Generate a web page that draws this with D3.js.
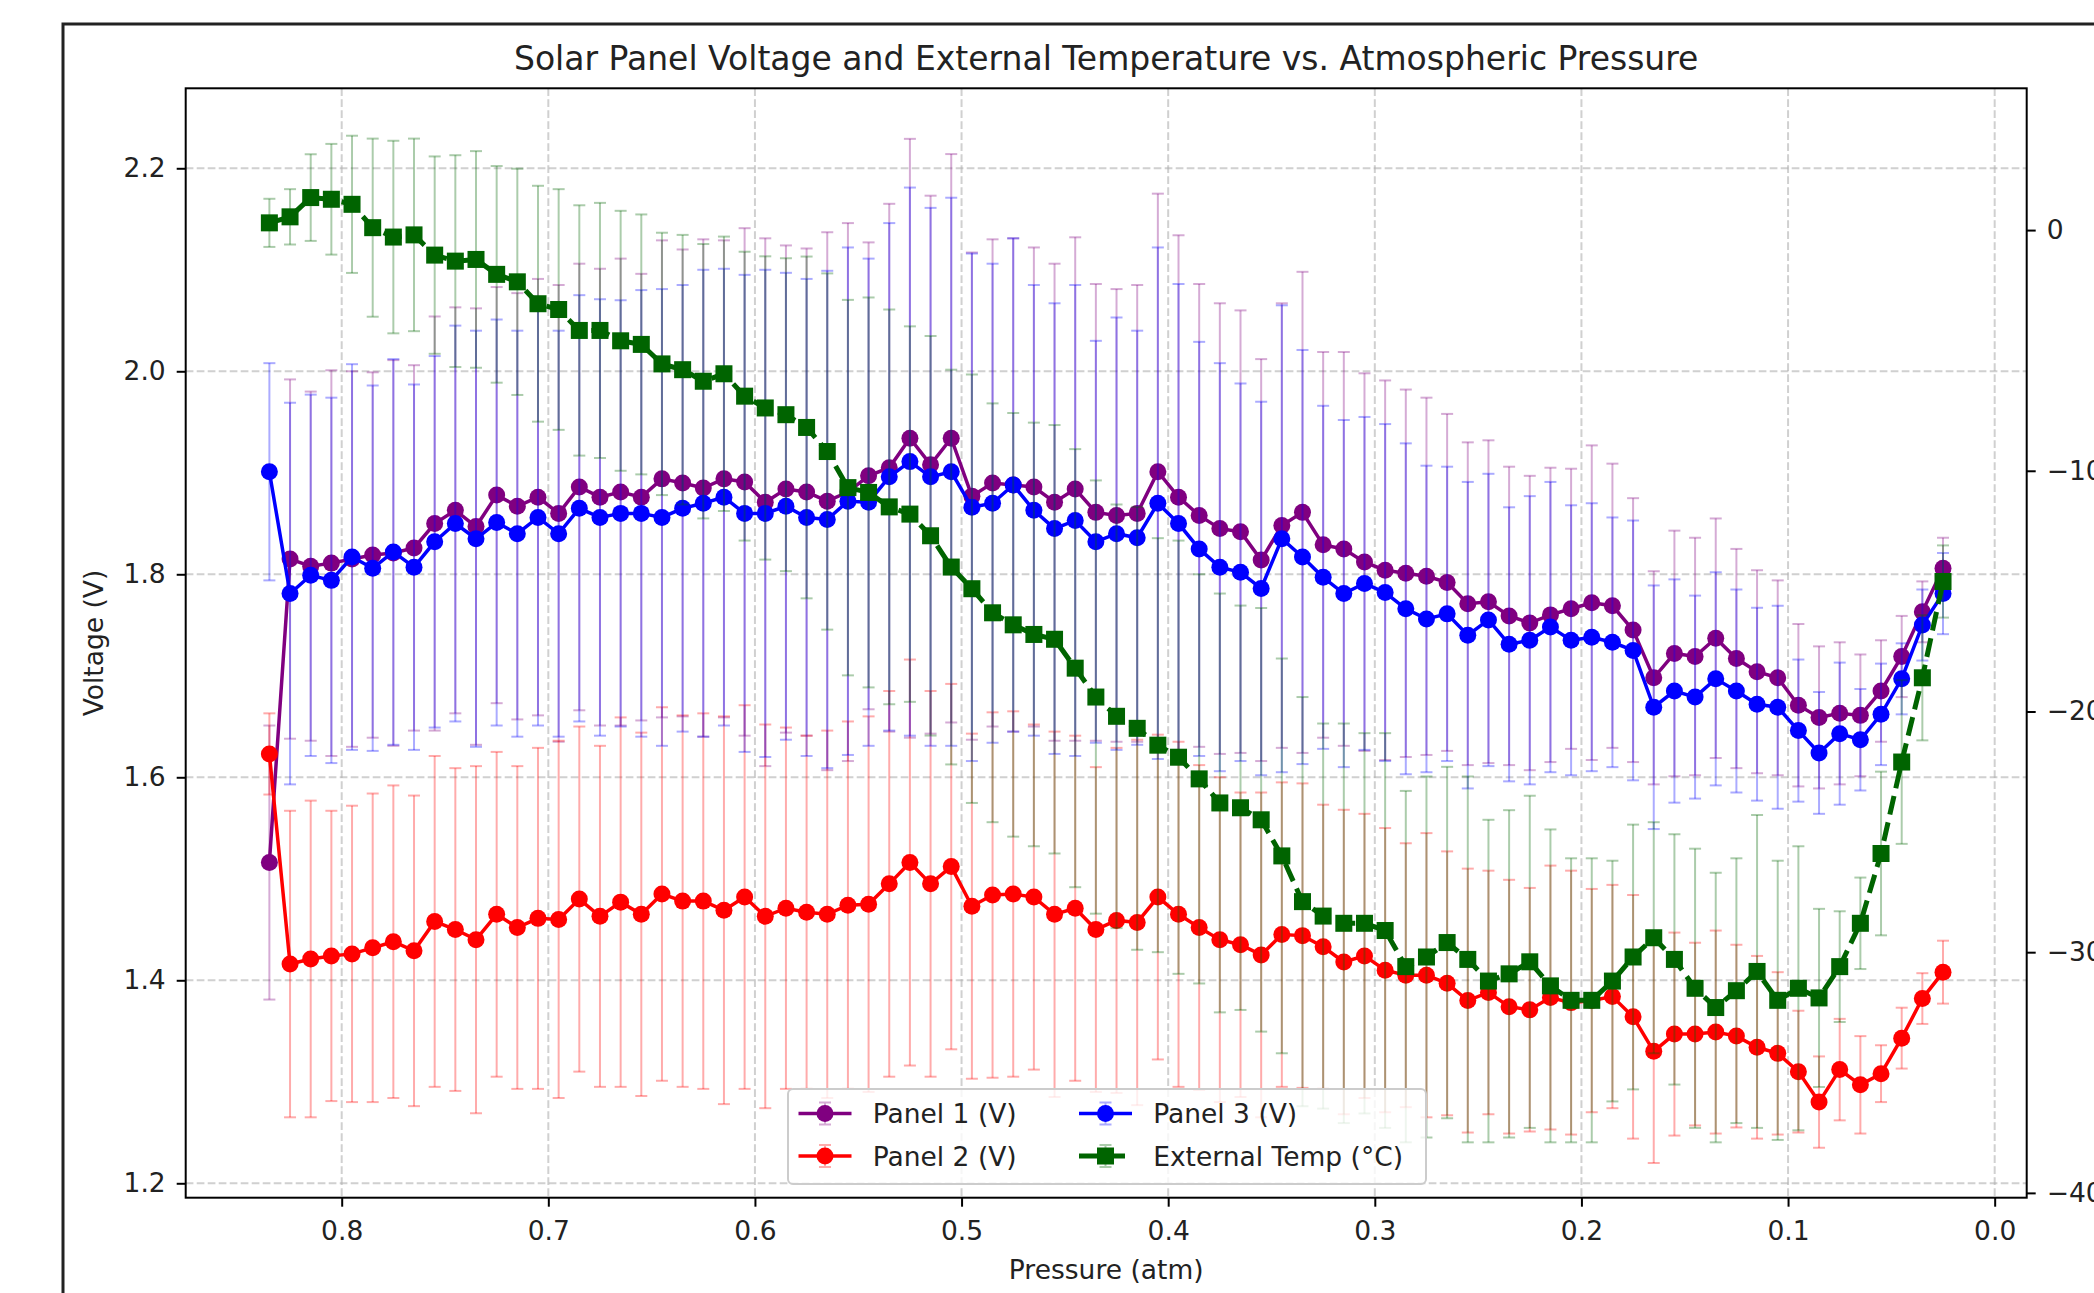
<!DOCTYPE html>
<html>
<head>
<meta charset="utf-8">
<script src="https://cdn.jsdelivr.net/npm/d3@7"></script>
<style>
  body { margin: 0; background: #fff; }
  svg { display: block; font-family: "DejaVu Sans", sans-serif; }
</style>
</head>
<body>
<div id="chart"></div>
<script>
// =================== DATA ===================

// Pressure readings (atm), one per sample
const pressure = [
  0.835, 0.825, 0.815, 0.805, 0.795, 0.785, 0.775, 0.765, 0.755, 0.745,
  0.735, 0.725, 0.715, 0.705, 0.695, 0.685, 0.675, 0.665, 0.655, 0.645,
  0.635, 0.625, 0.615, 0.605, 0.595, 0.585, 0.575, 0.565, 0.555, 0.545,
  0.535, 0.525, 0.515, 0.505, 0.495, 0.485, 0.475, 0.465, 0.455, 0.445,
  0.435, 0.425, 0.415, 0.405, 0.395, 0.385, 0.375, 0.365, 0.355, 0.345,
  0.335, 0.325, 0.315, 0.305, 0.295, 0.285, 0.275, 0.265, 0.255, 0.245,
  0.235, 0.225, 0.215, 0.205, 0.195, 0.185, 0.175, 0.165, 0.155, 0.145,
  0.135, 0.125, 0.115, 0.105, 0.095, 0.085, 0.075, 0.065, 0.055, 0.045,
  0.035, 0.025
];

// Panel voltages (V)
const panel1 = [
  1.516, 1.815, 1.808, 1.811, 1.815, 1.819, 1.821, 1.826, 1.850, 1.863,
  1.847, 1.878, 1.867, 1.876, 1.860, 1.886, 1.876, 1.881, 1.876, 1.894,
  1.890, 1.885, 1.894, 1.891, 1.871, 1.884, 1.881, 1.872, 1.881, 1.897,
  1.905, 1.934, 1.908, 1.934, 1.877, 1.890, 1.888, 1.886, 1.871, 1.884,
  1.861, 1.858, 1.860, 1.901, 1.876, 1.858, 1.845, 1.842, 1.814, 1.848,
  1.861, 1.829, 1.825, 1.812, 1.804, 1.801, 1.798, 1.792, 1.771, 1.773,
  1.759, 1.752, 1.760, 1.766, 1.772, 1.769, 1.745, 1.698, 1.722, 1.719,
  1.737, 1.717, 1.704, 1.698, 1.671, 1.659, 1.663, 1.661, 1.685, 1.719,
  1.763, 1.806
];
const panel2 = [
  1.623, 1.416, 1.421, 1.424, 1.426, 1.432, 1.438, 1.429, 1.458, 1.450,
  1.440, 1.465, 1.452, 1.461, 1.460, 1.480, 1.463, 1.477, 1.465, 1.485,
  1.478, 1.478, 1.469, 1.482, 1.463, 1.471, 1.467, 1.465, 1.474, 1.475,
  1.495, 1.516, 1.495, 1.512, 1.473, 1.484, 1.485, 1.482, 1.465, 1.471,
  1.450, 1.459, 1.457, 1.482, 1.465, 1.452, 1.440, 1.435, 1.425, 1.445,
  1.444, 1.433, 1.418, 1.424, 1.410, 1.405, 1.405, 1.397, 1.380, 1.388,
  1.374, 1.371, 1.383, 1.378, 1.380, 1.384, 1.364, 1.330, 1.347, 1.347,
  1.349, 1.345, 1.334, 1.328, 1.310, 1.280, 1.312, 1.297, 1.308, 1.343,
  1.382, 1.408
];
const panel3 = [
  1.901, 1.781, 1.799, 1.794, 1.817, 1.806, 1.822, 1.807, 1.832, 1.850,
  1.835, 1.851, 1.840, 1.856, 1.840, 1.865, 1.856, 1.860, 1.860, 1.856,
  1.865, 1.870, 1.876, 1.860, 1.860, 1.867, 1.856, 1.854, 1.872, 1.871,
  1.896, 1.911, 1.896, 1.901, 1.866, 1.870, 1.888, 1.863, 1.845, 1.853,
  1.832, 1.840, 1.836, 1.870, 1.850, 1.825, 1.807, 1.802, 1.786, 1.835,
  1.817, 1.797, 1.781, 1.791, 1.782, 1.766, 1.756, 1.761, 1.740, 1.755,
  1.731, 1.735, 1.748, 1.735, 1.738, 1.733, 1.725, 1.669, 1.685, 1.679,
  1.697, 1.685, 1.672, 1.669, 1.646, 1.624, 1.643, 1.637, 1.662, 1.697,
  1.750, 1.781
];

// External temperature (°C)
const temperature = [
  0.3, 0.55, 1.35, 1.28, 1.07, 0.1, -0.29, -0.2, -1.04, -1.29,
  -1.22, -1.84, -2.15, -3.06, -3.3, -4.17, -4.17, -4.6, -4.75, -5.56,
  -5.8, -6.28, -5.97, -6.9, -7.39, -7.67, -8.2, -9.2, -10.7, -10.9,
  -11.5, -11.8, -12.7, -14.0, -14.9, -15.9, -16.4, -16.8, -17.0, -18.2,
  -19.4, -20.2, -20.7, -21.4, -21.9, -22.8, -23.8, -24.0, -24.5, -26.0,
  -27.9, -28.5, -28.8, -28.8, -29.1, -30.6, -30.2, -29.6, -30.3, -31.2,
  -30.9, -30.4, -31.4, -32.0, -32.0, -31.2, -30.2, -29.4, -30.3, -31.5,
  -32.3, -31.6, -30.8, -32.0, -31.5, -31.9, -30.6, -28.8, -25.9, -22.1,
  -18.6, -14.6
];

// Error bar half-lengths
const panel1Err = [
  .135, .177, .172, .19, .185, .18, .19, .18, .204, .20,
  .215, .205, .21, .215, .225, .22, .225, .23, .22, .235,
  .23, .245, .235, .25, .26, .24, .24, .265, .265, .23,
  .26, .295, .265, .28, .24, .24, .243, .236, .235, .248,
  .225, .223, .225, .274, .258, .228, .222, .218, .198, .219,
  .237, .19, .194, .186, .187, .181, .176, .166, .159, .159,
  .147, .145, .145, .138, .155, .14, .13, .105, .121, .117,
  .118, .108, .10, .096, .08, .07, .07, .06, .05, .04,
  .03, .03
];
const panel2Err = [
  .04, .151, .156, .143, .146, .152, .154, .153, .163, .159,
  .171, .160, .159, .168, .176, .170, .168, .182, .179, .184,
  .183, .185, .191, .189, .189, .178, .174, .181, .181, .185,
  .19, .20, .19, .18, .17, .18, .18, .17, .18, .17,
  .16, .17, .18, .16, .17, .16, .16, .15, .16, .15,
  .15, .14, .15, .14, .14, .13, .14, .13, .13, .12,
  .125, .12, .13, .13, .11, .11, .12, .11, .10, .09,
  .10, .09, .09, .08, .06, .045, .05, .048, .028, .03,
  .025, .031
];
const panel3Err = [
  .107, .188, .178, .18, .19, .18, .19, .18, .183, .195,
  .205, .20, .20, .205, .20, .21, .215, .21, .22, .225,
  .22, .23, .225, .235, .24, .23, .235, .245, .25, .24,
  .25, .27, .265, .27, .25, .236, .243, .222, .222, .232,
  .198, .213, .204, .252, .236, .204, .201, .186, .184, .23,
  .204, .169, .171, .164, .166, .163, .151, .145, .151, .144,
  .135, .142, .143, .133, .132, .123, .128, .12, .11, .10,
  .105, .10, .095, .10, .07, .06, .07, .05, .05, .035,
  .035, .04
];
const temperatureErr = [
  1.0, 1.15, 1.8, 2.3, 2.85, 3.7, 4.0, 4.0, 4.1, 4.4,
  4.5, 4.5, 4.7, 4.9, 5.0, 5.2, 5.3, 5.4, 5.4, 5.45,
  5.6, 5.7, 5.7, 6.0, 6.3, 6.5, 7.1, 7.4, 7.8, 8.1,
  8.2, 7.8, 8.3, 8.2, 8.9, 8.7, 8.8, 8.8, 8.9, 9.1,
  9.0, 8.8, 9.2, 8.6, 9.0, 8.5, 8.7, 8.4, 8.8, 8.2,
  8.5, 8.0, 8.3, 7.9, 8.2, 7.3, 7.5, 7.3, 7.6, 6.7,
  6.8, 6.9, 6.5, 5.9, 5.9, 5.0, 5.5, 4.8, 5.2, 5.8,
  5.6, 5.5, 6.5, 5.8, 5.9, 3.7, 2.3, 1.9, 3.4, 3.4,
  2.6, 1.5
];

// Tick values
const pressureTicks = [0.8, 0.7, 0.6, 0.5, 0.4, 0.3, 0.2, 0.1, 0.0];
const voltageTicks = [1.2, 1.4, 1.6, 1.8, 2.0, 2.2];
const tempTicks = [0, -10, -20, -30, -40];

// =================== LAYOUT ===================

const W = 2094, H = 1293;
const plot = { left: 185.7, right: 2026.7, top: 88.3, bottom: 1197.7 };
const fontSize = 26.5;

const svg = d3.select("#chart")
  .append("svg")
  .attr("width", W)
  .attr("height", H);

// Figure frame (only top and left edges fall inside the picture)
svg.append("path")
  .attr("d", `M63,${H} V24 H${W}`)
  .attr("fill", "none")
  .attr("stroke", "#222")
  .attr("stroke-width", 3);

// Scales: pressure runs high to low, two independent y axes
const x = d3.scaleLinear().domain([0.8755, -0.0155]).range([plot.left, plot.right]);
const yV = d3.scaleLinear().domain([1.1858, 2.2788]).range([plot.bottom, plot.top]);
const yT = d3.scaleLinear().domain([-40.2, 5.89]).range([plot.bottom, plot.top]);

// Grid
const grid = svg.append("g")
  .attr("stroke", "#b0b0b0")
  .attr("stroke-opacity", 0.6)
  .attr("stroke-width", 2)
  .attr("stroke-dasharray", "7.7,3.3");

grid.selectAll("line.gx")
  .data(pressureTicks)
  .enter().append("line")
  .attr("x1", d => x(d)).attr("x2", d => x(d))
  .attr("y1", plot.top).attr("y2", plot.bottom);

grid.selectAll("line.gy")
  .data(voltageTicks)
  .enter().append("line")
  .attr("x1", plot.left).attr("x2", plot.right)
  .attr("y1", d => yV(d)).attr("y2", d => yV(d));

// =================== SERIES ===================

const capHalf = 6;

function drawErrorBars(values, errors, yScale, color, alpha) {
  const g = svg.append("g")
    .attr("stroke", color)
    .attr("stroke-opacity", alpha)
    .attr("stroke-width", 2);

  g.selectAll("line.bar")
    .data(values)
    .enter().append("line")
    .attr("x1", (d, i) => x(pressure[i]))
    .attr("x2", (d, i) => x(pressure[i]))
    .attr("y1", (d, i) => yScale(d - errors[i]))
    .attr("y2", (d, i) => yScale(d + errors[i]));

  [-1, 1].forEach(sign => {
    g.selectAll(`line.cap${sign}`)
      .data(values)
      .enter().append("line")
      .attr("x1", (d, i) => x(pressure[i]) - capHalf)
      .attr("x2", (d, i) => x(pressure[i]) + capHalf)
      .attr("y1", (d, i) => yScale(d + sign * errors[i]))
      .attr("y2", (d, i) => yScale(d + sign * errors[i]));
  });
}

function drawLine(values, yScale, color, width, dash) {
  const line = d3.line()
    .x((d, i) => x(pressure[i]))
    .y(d => yScale(d));

  svg.append("path")
    .datum(values)
    .attr("fill", "none")
    .attr("stroke", color)
    .attr("stroke-width", width)
    .attr("stroke-dasharray", dash || null)
    .attr("d", line);
}

function drawCircles(values, yScale, color) {
  svg.append("g").selectAll("circle")
    .data(values)
    .enter().append("circle")
    .attr("cx", (d, i) => x(pressure[i]))
    .attr("cy", d => yScale(d))
    .attr("r", 8.5)
    .attr("fill", color);
}

function drawSquares(values, yScale, color) {
  svg.append("g").selectAll("rect")
    .data(values)
    .enter().append("rect")
    .attr("x", (d, i) => x(pressure[i]) - 8.5)
    .attr("y", d => yScale(d) - 8.5)
    .attr("width", 17)
    .attr("height", 17)
    .attr("fill", color);
}

const panels = [
  { label: "Panel 1 (V)", values: panel1, errors: panel1Err, color: "#800080" },
  { label: "Panel 2 (V)", values: panel2, errors: panel2Err, color: "#ff0000" },
  { label: "Panel 3 (V)", values: panel3, errors: panel3Err, color: "#0000ff" }
];

panels.forEach(p => {
  drawErrorBars(p.values, p.errors, yV, p.color, 0.33);
  drawLine(p.values, yV, p.color, 3.5);
  drawCircles(p.values, yV, p.color);
});

// Temperature on the secondary axis, drawn on top
const tempColor = "#006400";
drawErrorBars(temperature, temperatureErr, yT, tempColor, 0.33);
drawLine(temperature, yT, tempColor, 5, "19,8");
drawSquares(temperature, yT, tempColor);

// =================== AXES ===================

function styleAxis(g) {
  g.select(".domain").remove();
  g.selectAll(".tick line").attr("stroke", "#000").attr("stroke-width", 2);
  g.selectAll(".tick text")
    .attr("fill", "#222")
    .attr("font-size", fontSize)
    .attr("font-family", "DejaVu Sans, sans-serif");
}

svg.append("g")
  .attr("transform", `translate(0,${plot.bottom})`)
  .call(d3.axisBottom(x).tickValues(pressureTicks).tickFormat(d3.format(".1f"))
    .tickSize(9).tickSizeOuter(0).tickPadding(14))
  .call(styleAxis);

svg.append("g")
  .attr("transform", `translate(${plot.left},0)`)
  .call(d3.axisLeft(yV).tickValues(voltageTicks).tickFormat(d3.format(".1f"))
    .tickSize(9).tickSizeOuter(0).tickPadding(11))
  .call(styleAxis);

// right-hand labels run off the picture's edge, as in the original crop
svg.append("g")
  .attr("transform", `translate(${plot.right},0)`)
  .call(d3.axisRight(yT).tickValues(tempTicks).tickFormat(d3.format("d"))
    .tickSize(9).tickSizeOuter(0).tickPadding(11))
  .call(styleAxis);

// Spines
svg.append("rect")
  .attr("x", plot.left).attr("y", plot.top)
  .attr("width", plot.right - plot.left)
  .attr("height", plot.bottom - plot.top)
  .attr("fill", "none")
  .attr("stroke", "#000")
  .attr("stroke-width", 2);

// Title and axis labels
svg.append("text")
  .attr("x", (plot.left + plot.right) / 2).attr("y", 70)
  .attr("text-anchor", "middle")
  .attr("font-size", 33)
  .attr("fill", "#222")
  .text("Solar Panel Voltage and External Temperature vs. Atmospheric Pressure");

svg.append("text")
  .attr("x", (plot.left + plot.right) / 2).attr("y", 1279)
  .attr("text-anchor", "middle")
  .attr("font-size", fontSize)
  .attr("fill", "#222")
  .text("Pressure (atm)");

svg.append("text")
  .attr("transform", `translate(103,${(plot.top + plot.bottom) / 2}) rotate(-90)`)
  .attr("text-anchor", "middle")
  .attr("font-size", fontSize)
  .attr("fill", "#222")
  .text("Voltage (V)");

// =================== LEGEND ===================

const legendItems = [
  { label: "Panel 1 (V)", color: "#800080", shape: "circle", col: 0, row: 0 },
  { label: "Panel 2 (V)", color: "#ff0000", shape: "circle", col: 0, row: 1 },
  { label: "Panel 3 (V)", color: "#0000ff", shape: "circle", col: 1, row: 0 },
  { label: "External Temp (°C)", color: tempColor, shape: "square", col: 1, row: 1 }
];

const legend = svg.append("g");
legend.append("rect")
  .attr("x", 788).attr("y", 1089)
  .attr("width", 638).attr("height", 95)
  .attr("rx", 5)
  .attr("fill", "#fff")
  .attr("fill-opacity", 0.8)
  .attr("stroke", "#cccccc")
  .attr("stroke-width", 2);

const colX = [798.5, 1079];
const rowY = [1113.5, 1156];

legendItems.forEach(item => {
  const x0 = colX[item.col], y0 = rowY[item.row], xm = x0 + 26.5;
  const g = legend.append("g");
  g.append("line")
    .attr("x1", x0).attr("x2", x0 + 53)
    .attr("y1", y0).attr("y2", y0)
    .attr("stroke", item.color)
    .attr("stroke-width", item.shape === "square" ? 5 : 3.5)
    .attr("stroke-dasharray", item.shape === "square" ? "19,8" : null);
  // small error bar glyph
  g.append("path")
    .attr("d", `M${xm},${y0 - 11}V${y0 + 11}M${xm - capHalf},${y0 - 11}H${xm + capHalf}M${xm - capHalf},${y0 + 11}H${xm + capHalf}`)
    .attr("stroke", item.color).attr("stroke-opacity", 0.33).attr("stroke-width", 2).attr("fill", "none");
  if (item.shape === "circle") {
    g.append("circle").attr("cx", xm).attr("cy", y0).attr("r", 8.5).attr("fill", item.color);
  } else {
    g.append("rect").attr("x", xm - 8.5).attr("y", y0 - 8.5).attr("width", 17).attr("height", 17).attr("fill", item.color);
  }
  g.append("text")
    .attr("x", x0 + 53 + 21.2).attr("y", y0)
    .attr("dy", "0.36em")
    .attr("font-size", fontSize)
    .attr("fill", "#222")
    .text(item.label);
});
</script>
</body>
</html>
